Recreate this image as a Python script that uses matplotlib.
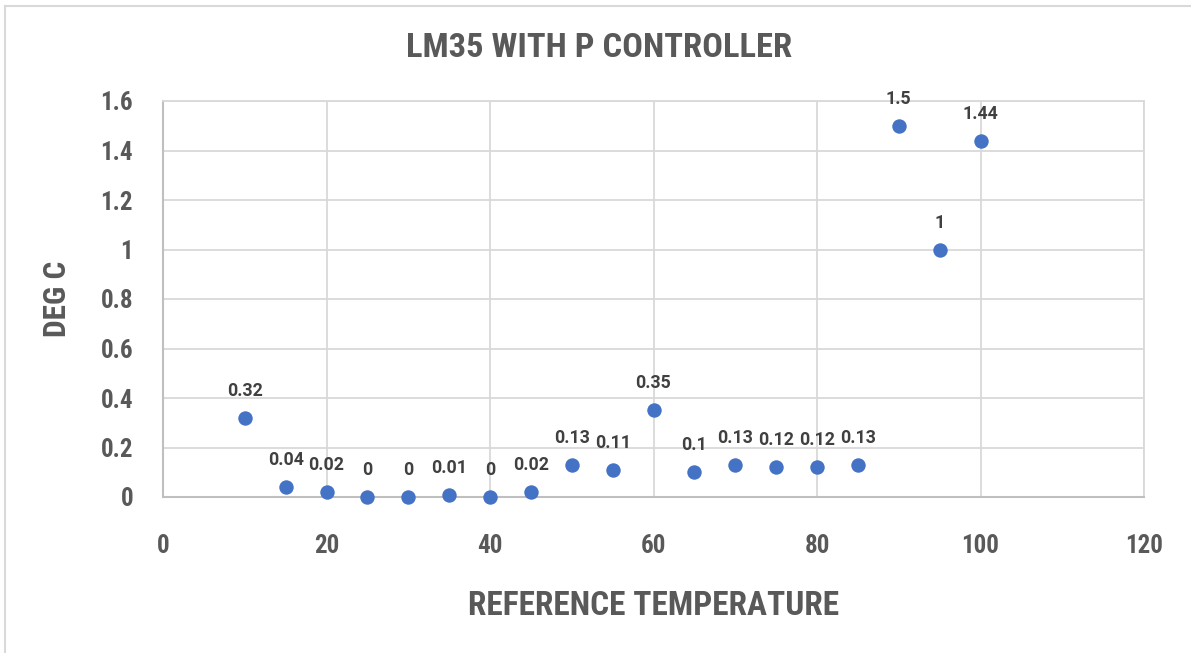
import matplotlib
matplotlib.use("Agg")
import matplotlib.pyplot as plt
import matplotlib.font_manager as fm
from matplotlib.lines import Line2D

# ---- data ----
ref_temp = [10, 15, 20, 25, 30, 35, 40, 45, 50, 55, 60, 65, 70, 75, 80, 85, 90, 95, 100]
deg_c = [0.32, 0.04, 0.02, 0, 0, 0.01, 0, 0.02, 0.13, 0.11, 0.35, 0.1, 0.13, 0.12, 0.12, 0.13, 1.5, 1, 1.44]
x_ticks = [0, 20, 40, 60, 80, 100, 120]
y_ticks = [0, 0.2, 0.4, 0.6, 0.8, 1.0, 1.2, 1.4, 1.6]
y_tick_labels = ["0", "0.2", "0.4", "0.6", "0.8", "1", "1.2", "1.4", "1.6"]
title = "LM35 WITH P CONTROLLER"
x_label = "REFERENCE TEMPERATURE"
y_label = "DEG C"

# ---- fonts ----
names = {f.name for f in fm.fontManager.ttflist}
cond_family = "DejaVu Sans"
for n in ["Roboto Condensed", "Liberation Sans Narrow", "Open Sans Condensed", "DejaVu Sans"]:
    if n in names:
        cond_family = n
        break
cond_kw = dict(family=cond_family, weight="bold", stretch="condensed")
label_family = "Roboto" if "Roboto" in names else "DejaVu Sans"

W, H, DPI = 1191, 653, 100
fig = plt.figure(figsize=(W / DPI, H / DPI), dpi=DPI)
fig.patch.set_facecolor("white")

left, right, top, bottom = 163, 1144, 101, 497
ax = fig.add_axes([left / W, 1 - bottom / H, (right - left) / W, (bottom - top) / H])

grid_c = "#D9D9D9"
text_c = "#595959"

ax.set_xlim(0, 120)
ax.set_ylim(0, 1.6)
ax.set_xticks(x_ticks)
ax.set_yticks(y_ticks)
ax.set_yticklabels(y_tick_labels)
ax.grid(True, color=grid_c, linewidth=1.3, zorder=0)
ax.set_axisbelow(True)
for s in ["top", "right"]:
    ax.spines[s].set_color(grid_c)
    ax.spines[s].set_linewidth(1.3)
for s in ["left", "bottom"]:
    ax.spines[s].set_color("#BFBFBF")
    ax.spines[s].set_linewidth(1.5)

ax.tick_params(axis="both", length=0, colors=text_c)
ax.tick_params(axis="y", pad=21.6)
ax.tick_params(axis="x", pad=26.5)
for lab in ax.get_xticklabels() + ax.get_yticklabels():
    lab.set_fontfamily(cond_family)
    lab.set_fontweight("bold")
    lab.set_fontstretch("condensed")
    lab.set_fontsize(18)
    lab.set_color(text_c)

ax.scatter(ref_temp, deg_c, s=108, color="#4472C4", zorder=3, clip_on=False, linewidths=0)

for x, y in zip(ref_temp, deg_c):
    ax.annotate(f"{y:g}", (x, y), xytext=(0, 15.8), textcoords="offset points",
                ha="center", va="baseline", fontsize=12.8, fontweight="bold",
                family=label_family, color="#404040", zorder=4, annotation_clip=False)

fig.text(599 / W, 1 - 57.3 / H, title, ha="center", va="baseline",
         fontsize=24.8, color=text_c, **cond_kw)
ax.set_xlabel(x_label, fontsize=24, color=text_c, va="baseline", **cond_kw)
ax.xaxis.set_label_coords(0.5, (bottom - 615) / (bottom - top))
ax.set_ylabel(y_label, fontsize=22.5, color=text_c, va="center", **cond_kw)
ax.yaxis.set_label_coords((57 - left) / (right - left), 0.5)

# outer chart border
fig.add_artist(Line2D([4.5 / W, 4.5 / W], [0, 1 - 6 / H], transform=fig.transFigure,
                      color=grid_c, linewidth=1.5))
fig.add_artist(Line2D([4.5 / W, 1], [1 - 6 / H, 1 - 6 / H], transform=fig.transFigure,
                      color=grid_c, linewidth=1.5))

fig.savefig("out.png", dpi=DPI, facecolor="white")
